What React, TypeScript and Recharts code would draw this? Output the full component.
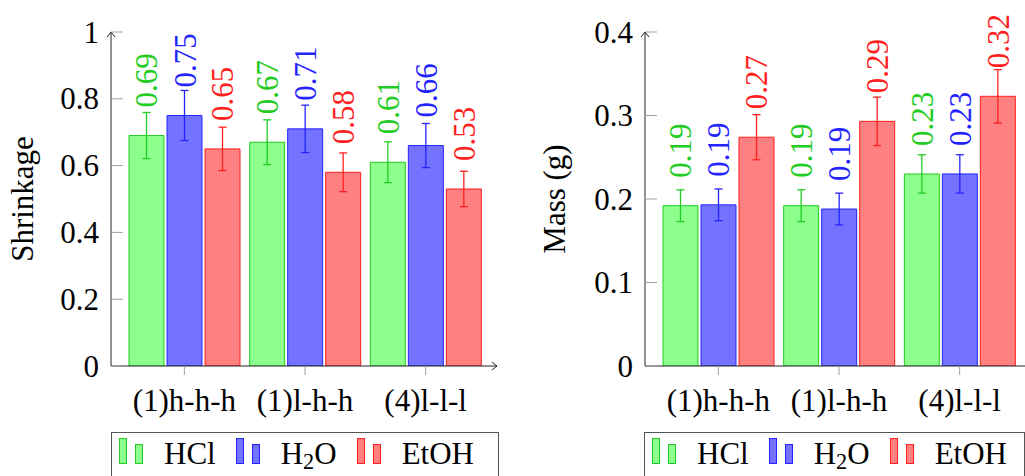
import { Bar, BarChart, ErrorBar, LabelList, Legend, XAxis, YAxis } from "recharts";

const categories = ["(1)h-h-h", "(1)l-h-h", "(4)l-l-l"];

const shrinkHCl = [0.69, 0.67, 0.61];
const shrinkH2O = [0.75, 0.71, 0.66];
const shrinkEtOH = [0.65, 0.58, 0.53];
const shrinkHClErr = [0.069, 0.067, 0.061];
const shrinkH2OErr = [0.075, 0.071, 0.066];
const shrinkEtOHErr = [0.065, 0.058, 0.053];

const massHCl = [0.192, 0.192, 0.23];
const massH2O = [0.193, 0.188, 0.23];
const massEtOH = [0.274, 0.293, 0.323];
const massHClErr = [0.019, 0.019, 0.023];
const massH2OErr = [0.019, 0.019, 0.023];
const massEtOHErr = [0.027, 0.029, 0.032];

const shrinkTicks = [0, 0.2, 0.4, 0.6, 0.8, 1];
const massTicks = [0, 0.1, 0.2, 0.3, 0.4];

const FONT = "Liberation Serif";
const FS = 31;

const series = [
  { key: "hcl", name: "HCl", stroke: "#22cc22", fill: "#8cff8c" },
  { key: "h2o", name: "H2O", stroke: "#2424ff", fill: "#7373ff" },
  { key: "etoh", name: "EtOH", stroke: "#ff1f1f", fill: "#ff8080" },
];

const shrinkData = categories.map((c, i) => ({
  cat: c,
  hcl: shrinkHCl[i],
  h2o: shrinkH2O[i],
  etoh: shrinkEtOH[i],
  hclErr: shrinkHClErr[i],
  h2oErr: shrinkH2OErr[i],
  etohErr: shrinkEtOHErr[i],
}));

const massData = categories.map((c, i) => ({
  cat: c,
  hcl: massHCl[i],
  h2o: massH2O[i],
  etoh: massEtOH[i],
  hclErr: massHClErr[i],
  h2oErr: massH2OErr[i],
  etohErr: massEtOHErr[i],
}));

function YTick(props: any) {
  const { x, y, payload } = props;
  return (
    <g>
      <line x1={x} x2={x + 12} y1={y} y2={y} stroke="#a0a0a0" />
      <text x={x - 12} y={y} dy="0.34em" textAnchor="end" fill="#000" fontSize={FS} fontFamily={FONT}>
        {String(payload.value)}
      </text>
    </g>
  );
}

// text read from bottom to top
function VText(props: { x: number; y: number; anchor: string; color: string; children: any }) {
  const { x, y, anchor, color, children } = props;
  return (
    <text
      x={x}
      y={y}
      textAnchor={anchor}
      fill={color}
      fontSize={FS}
      fontFamily={FONT}
      transform={`rotate(-90 ${x} ${y})`}
    >
      {children}
    </text>
  );
}

function valueLabel(color: string) {
  return (props: any) => {
    const vb = props.viewBox ?? props;
    const x = Number(props.x ?? vb.x);
    const y = Number(props.y ?? vb.y);
    const w = Number(props.width ?? vb.width);
    // sits a fixed distance above the bar top, baseline shifted so digits centre on the bar
    const cx = x + w / 2 + 11;
    const top = y - 28;
    return (
      <VText x={cx} y={top} anchor="start" color={color}>
        {Number(props.value).toFixed(2)}
      </VText>
    );
  };
}

function AxisTitle(props: any) {
  const { viewBox, text, posX } = props;
  const cy = viewBox.y + viewBox.height / 2;
  return (
    <VText x={posX} y={cy} anchor="middle" color="#000">
      {text}
    </VText>
  );
}

function legendText(name: string) {
  if (name === "H2O") {
    return (
      <>
        H<span style={{ fontSize: "0.72em", position: "relative", top: "0.22em" }}>2</span>O
      </>
    );
  }
  return name;
}

function renderLegend(width: number) {
  return (props: any) => {
    const keys = new Set((props.payload ?? []).map((e: any) => e.dataKey));
    const shown = series.filter((s) => keys.has(s.key));
    return (
      <div
        style={{
          boxSizing: "border-box",
          width,
          height: 54,
          border: "1px solid #555",
          background: "#fff",
          padding: "5px 0 0 7px",
          display: "flex",
          fontFamily: FONT,
        }}
      >
        {shown.map((s) => (
          <div key={s.key} style={{ display: "flex", alignItems: "flex-start", marginRight: 20 }}>
            <svg width={26} height={27} style={{ marginRight: 19, display: "block" }}>
              <rect x={0.5} y={0.5} width={7} height={25} fill={s.fill} stroke={s.stroke} />
              <rect x={16.5} y={6.5} width={7} height={19} fill={s.fill} stroke={s.stroke} />
            </svg>
            <span style={{ fontSize: FS, lineHeight: "31px", color: "#000", whiteSpace: "nowrap" }}>
              {legendText(s.name)}
            </span>
          </div>
        ))}
      </div>
    );
  };
}

function Panel(props: {
  data: any[];
  ticks: number[];
  title: string;
  titleX: number;
  marginLeft: number;
  marginRight: number;
  legendLeft: number;
  legendWidth: number;
}) {
  const { data, ticks, title, titleX, marginLeft, marginRight, legendLeft, legendWidth } = props;
  return (
    <BarChart
      width={520}
      height={476}
      data={data}
      margin={{ top: 32, right: marginRight, bottom: 50, left: marginLeft }}
      barSize={35}
      barGap={3}
      style={{ fontFamily: FONT }}
    >
      <XAxis
        dataKey="cat"
        height={60}
        padding={{ left: 13, right: 11 }}
        axisLine={{ stroke: "#222", markerEnd: "url(#axisArrow)" }}
        tickLine={{ stroke: "#a0a0a0" }}
        tickSize={9}
        tickMargin={14}
        tick={{ fill: "#000", fontSize: FS, fontFamily: FONT }}
      />
      <YAxis
        width={60}
        domain={[ticks[0], ticks[ticks.length - 1]]}
        ticks={ticks}
        interval={0}
        allowDataOverflow
        axisLine={{ stroke: "#222", markerStart: "url(#axisArrow)" }}
        tickLine={false}
        tickSize={0}
        tickMargin={0}
        tick={<YTick />}
        label={<AxisTitle text={title} posX={titleX} />}
      />
      <Legend
        layout="horizontal"
        verticalAlign="middle"
        align="center"
        wrapperStyle={{ left: legendLeft, top: 432, width: legendWidth }}
        content={renderLegend(legendWidth)}
      />
      {series.map((s) => (
        <Bar
          key={s.key}
          dataKey={s.key}
          name={s.name}
          fill={s.fill}
          stroke={s.stroke}
          strokeWidth={1}
          isAnimationActive={false}
        >
          <ErrorBar
            dataKey={s.key + "Err"}
            width={4}
            stroke={s.stroke}
            strokeWidth={1.3}
            direction="y"
            isAnimationActive={false}
          />
          <LabelList dataKey={s.key} content={valueLabel(s.stroke)} />
        </Bar>
      ))}
    </BarChart>
  );
}

export default function App() {
  return (
    <div
      style={{
        position: "absolute",
        left: 0,
        top: 0,
        width: 1025,
        height: 476,
        overflow: "hidden",
        background: "#fff",
        fontFamily: FONT,
      }}
    >
      <svg width={0} height={0} style={{ position: "absolute" }}>
        <defs>
          <marker
            id="axisArrow"
            viewBox="0 0 6 10"
            refX={5.5}
            refY={5}
            markerWidth={6}
            markerHeight={10}
            markerUnits="userSpaceOnUse"
            orient="auto-start-reverse"
          >
            <path d="M0.5,1 L5.5,5 L0.5,9" fill="none" stroke="#222" strokeWidth={1} />
          </marker>
        </defs>
      </svg>
      <div style={{ position: "absolute", left: 0, top: 0 }}>
        <Panel
          data={shrinkData}
          ticks={shrinkTicks}
          title="Shrinkage"
          titleX={33}
          marginLeft={51}
          marginRight={23}
          legendLeft={111}
          legendWidth={388}
        />
      </div>
      <div style={{ position: "absolute", left: 520, top: 0 }}>
        <Panel
          data={massData}
          ticks={massTicks}
          title="Mass (g)"
          titleX={45}
          marginLeft={65}
          marginRight={9}
          legendLeft={124}
          legendWidth={381}
        />
      </div>
    </div>
  );
}
